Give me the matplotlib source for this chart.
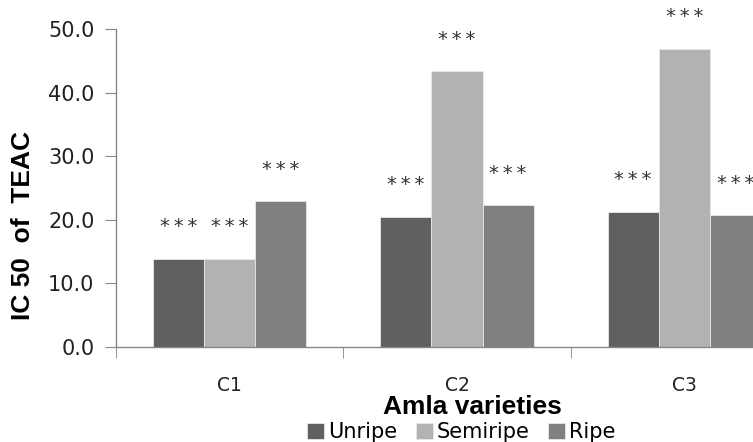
import matplotlib
matplotlib.use("Agg")
import matplotlib.pyplot as plt
import numpy as np

categories = ["C1", "C2", "C3"]
series_names = ["Unripe", "Semiripe", "Ripe"]
unripe = [13.9, 20.5, 21.3]
semiripe = [13.9, 43.4, 46.9]
ripe = [22.9, 22.3, 20.7]
signif = ["*\u2009*\u2009*"] * 3
yticks = [0, 10, 20, 30, 40, 50]

colors = ["#606060", "#b2b2b2", "#808080"]
axis_gray = "#868686"

plt.rcParams["font.family"] = ["DejaVu Sans"]

fig = plt.figure(figsize=(7.53, 4.42), dpi=100)
ax = fig.add_axes([116 / 753, 1 - 347 / 442, 682 / 753, (347 - 29) / 442])

x = np.arange(len(categories))
w = 0.225
all_series = [unripe, semiripe, ripe]
for i, (vals, name, col) in enumerate(zip(all_series, series_names, colors)):
    pos = x + (i - 1) * w
    ax.bar(pos, vals, width=w, color=col, edgecolor="#e8e8e8", linewidth=0.6, label=name)
    for p, v in zip(pos, vals):
        ax.text(p, v + 5.0, signif[i], ha="center", va="center", fontsize=14,
                color="#333333")

ax.set_xlim(-0.5, 2.5)
ax.set_ylim(0, 50)
ax.set_yticks(yticks)
ax.set_yticklabels([f"{t:.1f}" for t in yticks], fontsize=15, color="#222222")
ax.set_xticks(x)
ax.set_xticklabels(categories, fontsize=13.5, color="#222222")
ax.set_xticks(np.arange(-0.5, 3.0, 1.0), minor=True)
ax.tick_params(axis="x", which="major", length=0, pad=21)
ax.tick_params(axis="x", which="minor", length=8, color=axis_gray, direction="out")
ax.tick_params(axis="y", length=8, color=axis_gray, direction="out", pad=7.5)

for s in ["top", "right"]:
    ax.spines[s].set_visible(False)
for s in ["left", "bottom"]:
    ax.spines[s].set_color(axis_gray)
    ax.spines[s].set_linewidth(1.0)

fig.text(23 / 753, 1 - 226 / 442, "IC 50  of  TEAC", rotation=90, ha="center", va="center",
         fontsize=19, fontweight="bold", family="Liberation Sans")
fig.text(472 / 753, 1 - 407 / 442, "Amla varieties", ha="center", va="center",
         fontsize=19, fontweight="bold", family="Liberation Sans")

ax.legend(loc="center", bbox_to_anchor=(461.5 / 753, 1 - 432 / 442),
          bbox_transform=fig.transFigure, ncol=3, frameon=False, fontsize=15,
          handlelength=0.8, handleheight=0.8, handletextpad=0.2, columnspacing=0.9,
          borderpad=0)

fig.savefig("out.png", dpi=100)
